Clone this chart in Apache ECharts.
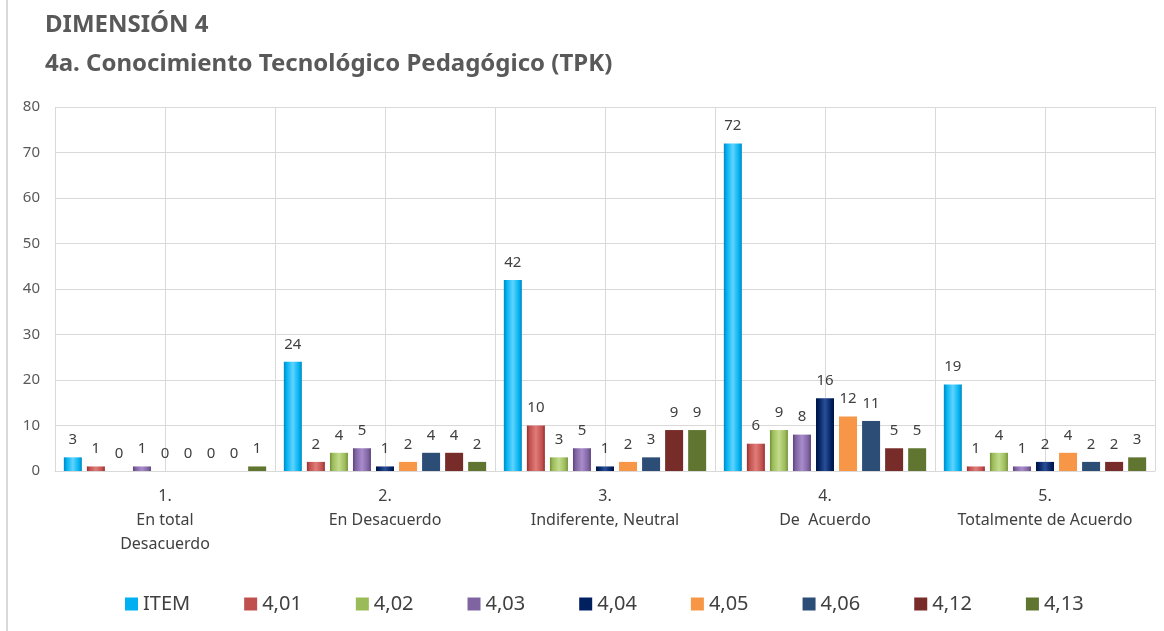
<!DOCTYPE html>
<html>
<head>
<meta charset="utf-8">
<title>Dimensión 4</title>
<script src="https://cdn.jsdelivr.net/npm/echarts@6/dist/echarts.min.js"></script>
<style>
  html, body { margin: 0; padding: 0; background: #fff; }
  #frame { position: absolute; left: 6px; top: 0; width: 2px; height: 631px; background: #d9d9d9; }
  #chart { width: 1164px; height: 631px; }
</style>
</head>
<body>
<div id="chart"></div>
<div id="frame"></div>
<script>
// categorías del eje X
const categories = [
  '1.\nEn total\nDesacuerdo',
  '2.\nEn Desacuerdo',
  '3.\nIndiferente, Neutral',
  '4.\nDe  Acuerdo',
  '5.\nTotalmente de Acuerdo',
]

// series
const seriesNames = ['ITEM', '4,01', '4,02', '4,03', '4,04', '4,05', '4,06', '4,12', '4,13']
const item = [3, 24, 42, 72, 19]
const v401 = [1, 2, 10, 6, 1]
const v402 = [0, 4, 3, 9, 4]
const v403 = [1, 5, 5, 8, 1]
const v404 = [0, 1, 1, 16, 2]
const v405 = [0, 2, 2, 12, 4]
const v406 = [0, 4, 3, 11, 2]
const v412 = [0, 4, 9, 5, 2]
const v413 = [1, 2, 9, 5, 3]
const seriesValues = [item, v401, v402, v403, v404, v405, v406, v412, v413]

const yTicks = { min: 0, max: 80, interval: 10 }

// colores estilo Office, con bisel en las primeras cinco
const palette = [
  { base: '#00B0F0', light: '#5fd4ff', dark: '#0088c0', bevel: true },
  { base: '#C0504D', light: '#e07c79', dark: '#94302d', bevel: true },
  { base: '#9BBB59', light: '#c3dc8c', dark: '#728f38', bevel: true },
  { base: '#8064A2', light: '#a98ccb', dark: '#5b447a', bevel: true },
  { base: '#002060', light: '#2b4f96', dark: '#001440', bevel: true },
  { base: '#F79646' },
  { base: '#2C4D75' },
  { base: '#772C2A' },
  { base: '#5F7530' },
]

const fillFor = (p) => {
  if (!p.bevel) return p.base
  return new echarts.graphic.LinearGradient(0, 0, 1, 0, [
    { offset: 0, color: p.dark },
    { offset: 0.15, color: p.base },
    { offset: 0.5, color: p.light },
    { offset: 0.85, color: p.base },
    { offset: 1, color: p.dark },
  ])
}

const chart = echarts.init(document.getElementById('chart'))

const titleStyle = { fontFamily: 'Noto Sans', fontSize: 24, fontWeight: 'bold', color: '#595959' }

const option = {
  animation: false,
  textStyle: { fontFamily: 'Noto Sans' },
  title: [
    { text: 'DIMENSIÓN 4', left: 40, top: 8, textStyle: titleStyle },
    { text: '4a. Conocimiento Tecnológico Pedagógico (TPK)', left: 40, top: 47, textStyle: titleStyle },
  ],
  legend: {
    top: 589,
    left: 120,
    itemWidth: 13,
    itemHeight: 13,
    itemGap: 54,
    icon: 'rect',
    textStyle: { fontSize: 20, color: '#404040' },
    data: seriesNames.map((name, i) => ({ name, itemStyle: { color: palette[i].base } })),
  },
  grid: { left: 55, right: 9, top: 107, bottom: 160 },
  xAxis: [
    {
      type: 'category',
      data: categories,
      axisLine: { lineStyle: { color: '#d9d9d9' } },
      axisTick: { show: false },
      splitLine: { show: false },
      axisLabel: { interval: 0, margin: 13, fontSize: 16, lineHeight: 24, color: '#404040' },
    },
    {
      // eje auxiliar para las líneas verticales cada media categoría
      type: 'category',
      data: categories.flatMap((c, i) => ['a' + i, 'b' + i]),
      position: 'bottom',
      axisLine: { show: false },
      axisTick: { show: false },
      axisLabel: { show: false },
      splitLine: { show: true, lineStyle: { color: '#d9d9d9' } },
    },
  ],
  yAxis: {
    type: 'value',
    min: yTicks.min,
    max: yTicks.max,
    interval: yTicks.interval,
    axisLine: { show: false },
    axisTick: { show: false },
    axisLabel: { fontSize: 15, color: '#595959', margin: 15 },
    splitLine: { lineStyle: { color: '#d9d9d9' } },
  },
  series: seriesNames.map((name, i) => ({
    name,
    type: 'bar',
    data: seriesValues[i],
    barWidth: 18,
    barGap: '28%',
    itemStyle: { color: fillFor(palette[i]) },
    label: { show: true, position: 'top', distance: 10, fontSize: 15, color: '#404040' },
  })),
}

chart.setOption(option)
</script>
</body>
</html>
